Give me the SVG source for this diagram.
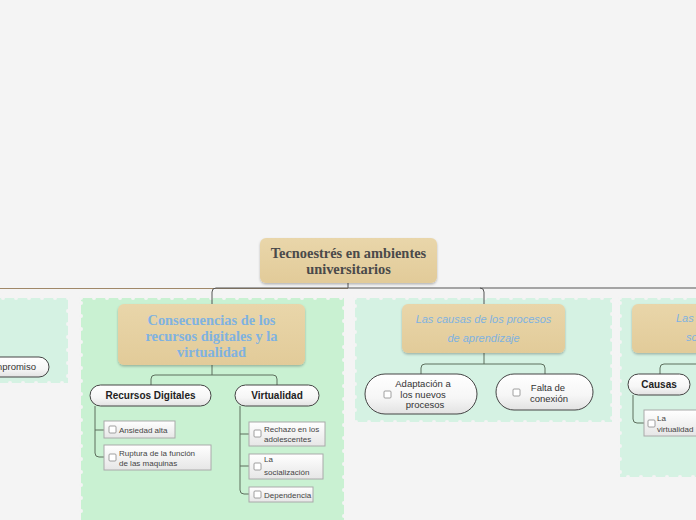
<svg xmlns="http://www.w3.org/2000/svg" width="696" height="520" viewBox="0 0 696 520">
<defs>
<linearGradient id="tan" x1="0" y1="0" x2="0" y2="1"><stop offset="0" stop-color="#e9d6aa"/><stop offset="1" stop-color="#e2cb99"/></linearGradient>
<linearGradient id="pill" x1="0" y1="0" x2="0" y2="1"><stop offset="0" stop-color="#ffffff"/><stop offset="0.6" stop-color="#f6f6f6"/><stop offset="1" stop-color="#e2e2e2"/></linearGradient>
<linearGradient id="leaf" x1="0" y1="0" x2="0" y2="1"><stop offset="0" stop-color="#ffffff"/><stop offset="1" stop-color="#e6e6e6"/></linearGradient>
<filter id="sh" x="-10%" y="-10%" width="120%" height="130%"><feDropShadow dx="0" dy="1.5" stdDeviation="1.2" flood-color="#000" flood-opacity="0.25"/></filter>
</defs>
<style>
.region{stroke:#f4f4f4;stroke-width:4;stroke-dasharray:0 13;stroke-linecap:round}
.topic{fill:url(#tan);filter:url(#sh)}
.pill{fill:url(#pill);stroke:#444;stroke-width:1}
.leafbox{fill:url(#leaf);stroke:#aaa;stroke-width:1}
.cb{fill:#fff;stroke:#888;stroke-width:0.8}
.conn{fill:none;stroke:#555;stroke-width:1}
.gconn{fill:none;stroke:#5d6e5d;stroke-width:1}
.root{font-family:"Liberation Serif",serif;font-weight:bold;font-size:14.4px;fill:#4a4a4a;text-anchor:middle}
.main{font-family:"Liberation Serif",serif;font-weight:bold;font-size:14.4px;fill:#7fb2e0;text-anchor:middle}
.ital{font-family:"Liberation Sans",sans-serif;font-style:italic;font-size:11px;fill:#7fb2e0;text-anchor:middle}
.sub{font-family:"Liberation Sans",sans-serif;font-weight:bold;font-size:10px;fill:#222;text-anchor:middle}
.pt{font-family:"Liberation Sans",sans-serif;font-size:9.5px;fill:#333;text-anchor:middle}
.lt{font-family:"Liberation Sans",sans-serif;font-size:8px;fill:#444}
</style>
<rect width="696" height="520" fill="#f4f4f4"/>

<g id="regions">
<rect class="region" x="-10" y="298" width="78" height="85" fill="#d5f2e3"/>
<rect class="region" x="81" y="298" width="263" height="240" fill="#c9f1d2"/>
<rect class="region" x="355" y="298" width="257" height="124" fill="#d5f2e3"/>
<rect class="region" x="620" y="298" width="90" height="179" fill="#d5f2e3"/>
</g>

<g id="connectors">
<path d="M0,288.5 H348" fill="none" stroke="#a08868" stroke-width="1.2"/>
<path class="conn" d="M348,283 V288 M212,304 V292 Q212,288 216,288 H696 M480,288 Q484,288 484,292 V304"/>
<path class="gconn" d="M212,365 V375 M151,385 V379 Q151,375 155,375 H273 Q277,375 277,379 V385"/>
<path class="gconn" d="M95,406 V453 Q95,457 99,457 H104 M95,430 H104"/>
<path class="gconn" d="M240,406 V490 Q240,494 244,494 H249 M240,434 H249 M240,466 H249"/>
<path class="gconn" d="M484,353 V364 M421,374 V368 Q421,364 425,364 H541 Q545,364 545,368 V374"/>
<path class="gconn" d="M660,374 V368 Q660,364 664,364 H696 M633,395 V419 Q633,423 637,423 H644"/>
</g>

<g id="root">
<rect class="topic" x="260" y="238" width="177" height="45" rx="6"/>
<text class="root" x="348.5" y="258">Tecnoestrés en ambientes</text>
<text class="root" x="348.5" y="274">universitarios</text>
</g>

<g id="consecuencias">
<rect class="topic" x="118" y="304" width="187" height="61" rx="6"/>
<text class="main" x="211.5" y="325">Consecuencias de los</text>
<text class="main" x="211.5" y="341">recursos digitales y la</text>
<text class="main" x="211.5" y="357">virtualidad</text>
</g>

<g id="recursos">
<rect class="pill" x="90" y="385" width="121" height="21" rx="10.5"/>
<text class="sub" x="150.5" y="399">Recursos Digitales</text>
</g>
<g id="virtualidad">
<rect class="pill" x="235" y="385" width="84" height="21" rx="10.5"/>
<text class="sub" x="277" y="399">Virtualidad</text>
</g>

<g id="ansiedad">
<rect class="leafbox" x="104" y="421" width="71" height="17"/>
<rect class="cb" x="109" y="426" width="7" height="7" rx="1"/>
<text class="lt" x="119" y="433">Ansiedad alta</text>
</g>
<g id="ruptura">
<rect class="leafbox" x="104" y="445" width="107" height="25"/>
<rect class="cb" x="109" y="454" width="7" height="7" rx="1"/>
<text class="lt" x="119" y="456">Ruptura de la función</text>
<text class="lt" x="119" y="466">de las maquinas</text>
</g>
<g id="rechazo">
<rect class="leafbox" x="249" y="422" width="76" height="24"/>
<rect class="cb" x="254" y="430" width="7" height="7" rx="1"/>
<text class="lt" x="264" y="432">Rechazo en los</text>
<text class="lt" x="264" y="442">adolescentes</text>
</g>
<g id="socializacion">
<rect class="leafbox" x="249" y="454" width="74" height="25"/>
<rect class="cb" x="254" y="463" width="7" height="7" rx="1"/>
<text class="lt" x="264" y="462">La</text>
<text class="lt" x="264" y="475">socialización</text>
</g>
<g id="dependencia">
<rect class="leafbox" x="249" y="487" width="64" height="15"/>
<rect class="cb" x="254" y="491" width="7" height="7" rx="1"/>
<text class="lt" x="264" y="498">Dependencia</text>
</g>

<g id="causas-procesos">
<rect class="topic" x="402" y="304" width="163" height="49" rx="6"/>
<text class="ital" x="483.5" y="323">Las causas de los procesos</text>
<text class="ital" x="483.5" y="342">de aprendizaje</text>
</g>
<g id="adaptacion">
<rect class="pill" x="365" y="374" width="112" height="40" rx="20"/>
<rect class="cb" x="384" y="391" width="7" height="7" rx="1"/>
<text class="pt" x="423" y="387">Adaptación a</text>
<text class="pt" x="423" y="398">los nuevos</text>
<text class="pt" x="425" y="408">procesos</text>
</g>
<g id="falta">
<rect class="pill" x="496" y="374" width="97" height="36" rx="18"/>
<rect class="cb" x="513" y="389" width="7" height="7" rx="1"/>
<text class="pt" x="548" y="391">Falta de</text>
<text class="pt" x="549" y="402">conexión</text>
</g>

<g id="right-topic">
<rect class="topic" x="632" y="304" width="80" height="49" rx="6"/>
<text class="ital" x="676" y="322" style="text-anchor:start">Las</text>
<text class="ital" x="686" y="341" style="text-anchor:start">so</text>
</g>
<g id="causas">
<rect class="pill" x="628" y="374" width="62" height="21" rx="10.5"/>
<text class="sub" x="659" y="388">Causas</text>
</g>
<g id="la-virtualidad">
<rect class="leafbox" x="644" y="410" width="60" height="26"/>
<rect class="cb" x="648" y="420" width="7" height="7" rx="1"/>
<text class="lt" x="657" y="421">La</text>
<text class="lt" x="657" y="432">virtualidad</text>
</g>

<g id="compromiso">
<rect class="pill" x="-40" y="357" width="89" height="20" rx="10"/>
<text class="pt" x="36" y="370" style="text-anchor:end">mpromiso</text>
</g>
</svg>
